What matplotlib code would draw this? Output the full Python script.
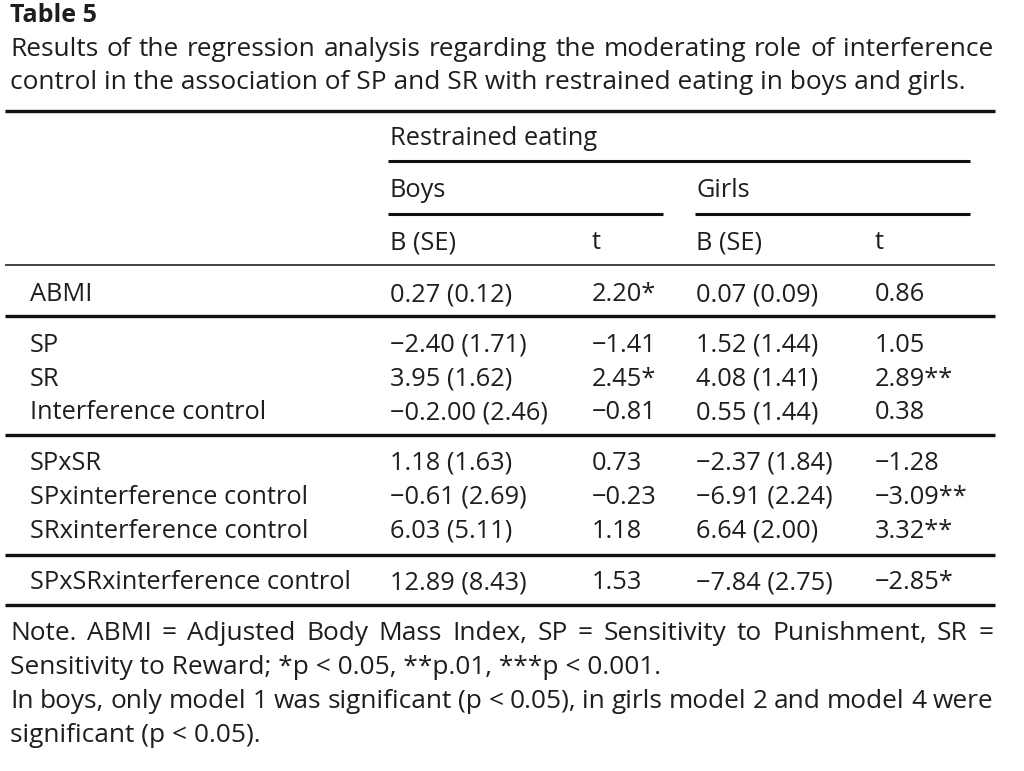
import matplotlib
matplotlib.use("Agg")
import matplotlib.pyplot as plt

plt.rcParams['font.family'] = ['Open Sans', 'DejaVu Sans']

# table content
row_labels = ["ABMI", "SP", "SR", "Interference control", "SPxSR",
              "SPxinterference control", "SRxinterference control",
              "SPxSRxinterference control"]
boys_b = ["0.27 (0.12)", "\u22122.40 (1.71)", "3.95 (1.62)", "\u22120.2.00 (2.46)",
          "1.18 (1.63)", "\u22120.61 (2.69)", "6.03 (5.11)", "12.89 (8.43)"]
boys_t = ["2.20*", "\u22121.41", "2.45*", "\u22120.81", "0.73", "\u22120.23", "1.18", "1.53"]
girls_b = ["0.07 (0.09)", "1.52 (1.44)", "4.08 (1.41)", "0.55 (1.44)",
           "\u22122.37 (1.84)", "\u22126.91 (2.24)", "6.64 (2.00)", "\u22127.84 (2.75)"]
girls_t = ["0.86", "1.05", "2.89**", "0.38", "\u22121.28", "\u22123.09**", "3.32**", "\u22122.85*"]
col_headers = ["B (SE)", "t", "B (SE)", "t"]
group_headers = ["Boys", "Girls"]
title = "Table 5"
caption = ["Results of the regression analysis regarding the moderating role of interference",
           "control in the association of SP and SR with restrained eating in boys and girls."]
notes = ["Note. ABMI = Adjusted Body Mass Index, SP = Sensitivity to Punishment, SR =",
         "Sensitivity to Reward; *p < 0.05, **p.01, ***p < 0.001.",
         "In boys, only model 1 was significant (p < 0.05), in girls model 2 and model 4 were",
         "significant (p < 0.05)."]

# layout (pixels)
W, H = 1024, 771
row_y = [293, 344, 378, 411, 462, 496, 530, 581]
col_x = [390, 592, 696, 875]
FS = 18.3
FS_TXT = 18.9
INK = '#1e1e1e'

fig = plt.figure(figsize=(W / 100, H / 100), dpi=100)
ax = fig.add_axes([0, 0, 1, 1])
ax.set_xlim(0, W)
ax.set_ylim(H, 0)
ax.axis('off')
rend = fig.canvas.get_renderer()


def put(x, y, s, **kw):
    kw.setdefault('fontsize', FS)
    return ax.text(x, y + 1.5, s, va='center', ha='left', color=INK, **kw)


def justify(s, x0, x1, y, **kw):
    words = s.split()
    objs = [put(0, y, w, **kw) for w in words]
    widths = [o.get_window_extent(rend).width for o in objs]
    gap = (x1 - x0 - sum(widths)) / (len(words) - 1)
    x = x0
    for o, w in zip(objs, widths):
        o.set_x(x)
        x += w + gap


def rule(y, x0, x1, lw):
    ax.plot([x0, x1], [y, y], color='#111111', lw=lw, solid_capstyle='butt')


put(10, 14, title, fontsize=18, fontweight='bold')
justify(caption[0], 10, 993, 48, fontsize=FS_TXT)
put(10, 81, caption[1], fontsize=FS_TXT)

rule(111, 5, 995, 2.4)
put(col_x[0], 137, "Restrained eating")
rule(161, 388, 970, 2.2)
put(col_x[0], 189, group_headers[0])
put(col_x[2], 189, group_headers[1])
rule(214, 388, 663, 2.2)
rule(214, 695, 970, 2.2)
for x, h in zip(col_x, col_headers):
    put(x, 241, h)
rule(265, 5, 995, 1.1)

for i, lab in enumerate(row_labels):
    y = row_y[i]
    put(30, y, lab)
    put(col_x[0], y, boys_b[i])
    put(col_x[1], y, boys_t[i])
    put(col_x[2], y, girls_b[i])
    put(col_x[3], y, girls_t[i])

for y in [316, 435, 555, 605]:
    rule(y, 5, 995, 2.4)

justify(notes[0], 10, 993, 632, fontsize=FS_TXT)
put(10, 666, notes[1], fontsize=FS_TXT)
justify(notes[2], 10, 993, 700, fontsize=FS_TXT)
put(10, 734, notes[3], fontsize=FS_TXT)

fig.savefig("out.png", dpi=100, facecolor='white')
